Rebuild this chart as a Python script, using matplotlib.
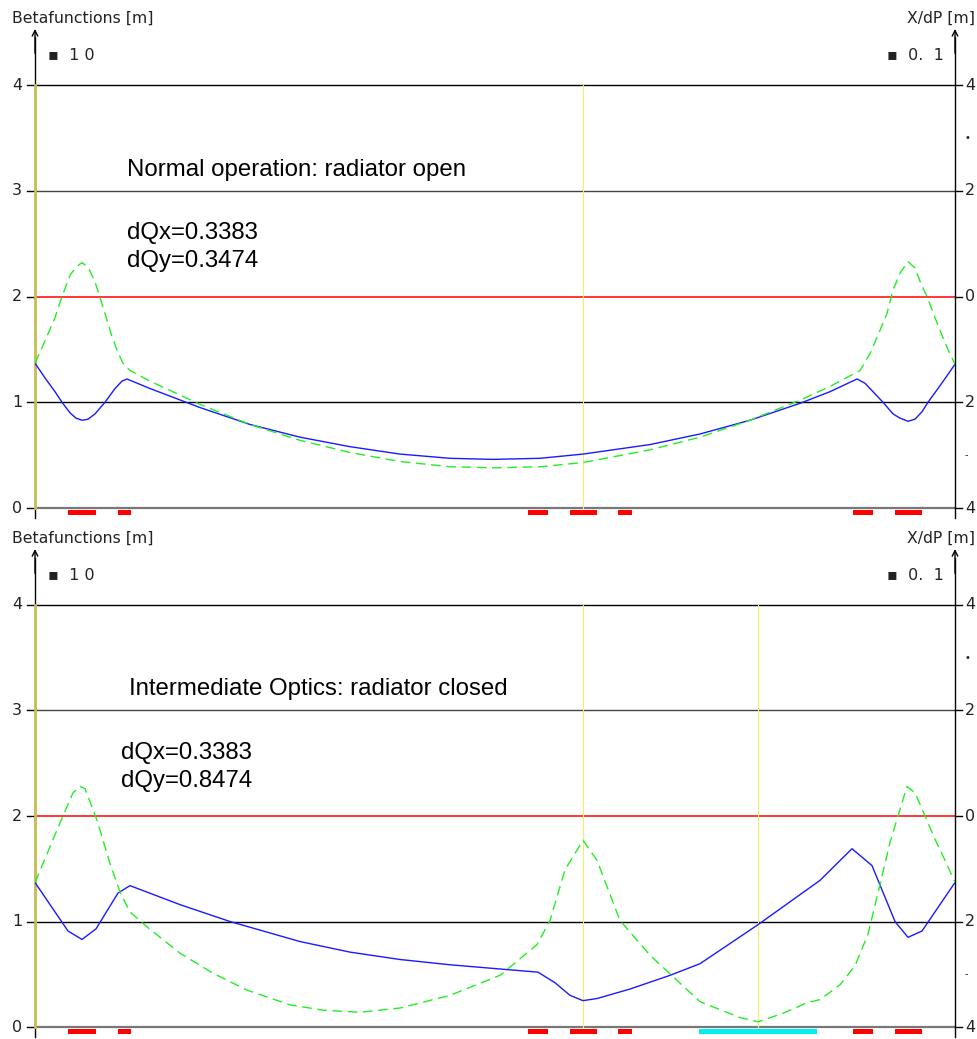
import matplotlib.pyplot as plt
import numpy as np

# Data (s in arbitrary units along the lattice, beta in units of 10 m)
s_bx1 = [0, 1, 2, 2.7, 3.5, 4.1, 4.7, 5.3, 6, 7, 8, 8.7, 9.2, 11.5, 16.5, 21.5, 26.5, 31.5,
         36.5, 41.5, 45.8, 50.5, 54.8, 61.5, 66.5, 71.5, 76.5, 79.5, 82.2, 83, 84, 84.8,
         85.8, 86.5, 87.3, 88, 88.7, 89.3, 90.3, 91.2, 92]
bx1 = [1.37, 1.23, 1.10, 1.00, 0.90, 0.85, 0.83, 0.84, 0.89, 1.00, 1.13, 1.20, 1.22, 1.13,
       0.95, 0.79, 0.67, 0.58, 0.51, 0.47, 0.46, 0.47, 0.51, 0.60, 0.70, 0.83, 0.99, 1.10,
       1.22, 1.18, 1.08, 1.00, 0.89, 0.85, 0.82, 0.84, 0.91, 1.00, 1.13, 1.25, 1.36]

s_by1 = [0, 1, 2, 2.7, 3.5, 4.1, 4.7, 5.3, 6, 6.4, 7, 7.7, 8.3, 8.8, 9.5, 11.5, 16.5, 21.5,
         26.5, 31.5, 36.5, 41.5, 46, 50.5, 54.8, 61.5, 66.5, 71.5, 76.5, 79.5, 82.5, 83.5,
         84.5, 85.2, 85.8, 86.5, 87.3, 88, 88.6, 89.2, 89.8, 90.5, 91.2, 92]
by1 = [1.37, 1.58, 1.80, 2.00, 2.20, 2.28, 2.32, 2.28, 2.14, 2.02, 1.84, 1.62, 1.47, 1.37,
       1.30, 1.20, 0.98, 0.79, 0.64, 0.525, 0.44, 0.39, 0.38, 0.39, 0.43, 0.55, 0.67, 0.83,
       1.02, 1.15, 1.30, 1.46, 1.68, 1.84, 2.06, 2.22, 2.33, 2.27, 2.12, 2.00, 1.85, 1.68,
       1.52, 1.36]

s_bx2 = [0, 3.3, 4.7, 6.1, 8.3, 9.5, 14.5, 19.5, 26.5, 31.5, 36.5, 41.5, 46.5, 50.3, 52,
         53.5, 54.8, 56.2, 59.5, 63.5, 66.5, 72.3, 78.5, 81.7, 83.7, 86, 87.3, 88.7, 92]
bx2 = [1.37, 0.91, 0.83, 0.93, 1.27, 1.34, 1.16, 1.00, 0.81, 0.71, 0.64, 0.59, 0.55, 0.52,
       0.42, 0.30, 0.25, 0.27, 0.36, 0.49, 0.60, 0.97, 1.39, 1.69, 1.53, 1.00, 0.85, 0.91, 1.37]

s_by2 = [0, 2.7, 3.8, 4.5, 5, 6.2, 7.5, 8.5, 9.5, 11.2, 14.5, 17.8, 21.2, 25.5, 28.8, 32.5,
         36.5, 41.5, 46.5, 50.2, 51.5, 53, 54.8, 56.2, 58.5, 61.5, 66.5, 70.5, 72.3, 74.8,
         77.2, 78.5, 80.5, 82, 83.3, 84.5, 85.5, 86.3, 87.2, 88, 89, 90, 91, 92]
by2 = [1.37, 1.98, 2.22, 2.28, 2.26, 1.96, 1.55, 1.28, 1.09, 0.95, 0.70, 0.51, 0.35, 0.21,
       0.16, 0.14, 0.18, 0.30, 0.49, 0.78, 1.01, 1.49, 1.77, 1.58, 1.01, 0.68, 0.24, 0.09,
       0.05, 0.13, 0.23, 0.26, 0.40, 0.58, 0.88, 1.35, 1.75, 2.00, 2.28, 2.22, 2.00, 1.78,
       1.58, 1.37]

# magnet blocks (start, end)
red_blocks = [(3.3, 6.1), (8.3, 9.6), (49.3, 51.3), (53.5, 56.2), (58.3, 59.7),
              (81.8, 83.8), (86.0, 88.7)]
cyan_blocks = [(66.4, 78.2)]

left_ticks = [0, 1, 2, 3, 4]
right_tick_pos = [4, 3.5, 3, 2, 1, 0.5, 0]
right_tick_txt = ['4', '\u2022', '2', '0', '2', '-', '4']

panels = [
    dict(title='Normal operation: radiator open', qx='dQx=0.3383', qy='dQy=0.3474',
         sx=s_bx1, bx=bx1, sy=s_by1, by=by1, vlines=[54.8], cyan=[],
         rect=[0.03582, 0.4995, 0.94166, 0.4764], ylim=(-0.1135, 4.567),
         tpos=(9.2, 3.2), qpos=(9.2, 2.6)),
    dict(title='Intermediate Optics: radiator closed', qx='dQx=0.3383', qy='dQy=0.8474',
         sx=s_bx2, bx=bx2, sy=s_by2, by=by2, vlines=[54.8, 72.3], cyan=cyan_blocks,
         rect=[0.03582, 0.0019, 0.94166, 0.4736], ylim=(-0.0948, 4.569),
         tpos=(9.4, 3.2), qpos=(8.6, 2.6)),
]

fig = plt.figure(figsize=(9.77, 10.39), dpi=100)
plt.rcParams['font.family'] = ['DejaVu Sans']

for p in panels:
    ax = fig.add_axes(p['rect'])
    ax.set_xlim(0, 92)
    ax.set_ylim(*p['ylim'])
    ax.axis('off')

    # horizontal grid lines
    for yv, c, lw in [(4, 'black', 1.0), (3, '#444444', 1.0), (2, 'red', 1.1),
                      (1, 'black', 1.0), (0, '#777777', 1.6)]:
        ax.plot([0, 92], [yv, yv], color=c, lw=lw, zorder=1)

    # vertical markers
    for xv in p['vlines']:
        ax.plot([xv, xv], [0, 4], color='#f0f070', lw=0.8, zorder=1)

    # axes with arrows
    for xv in [0, 92]:
        ax.plot([xv, xv], [-0.09, 4.45], color='black', lw=1.0, zorder=3, clip_on=False)
        ax.annotate('', xy=(xv, 4.53), xytext=(xv, 4.3),
                    arrowprops=dict(arrowstyle='->', lw=1.0, color='black',
                                    shrinkA=0, shrinkB=0, mutation_scale=10),
                    annotation_clip=False)
    ax.plot([0, 0], [0, 4], color='#c8c050', lw=2.0, zorder=3.5, clip_on=False)

    # tick stubs and labels
    for t in left_ticks:
        ax.plot([-0.75, 0], [t, t], color='black', lw=1.0, clip_on=False)
        ax.text(-1.8, t, str(t), ha='center', va='center', fontsize=11.5, color='#222222')
    for t, lab in zip(right_tick_pos, right_tick_txt):
        if lab in ('4', '2', '0'):
            ax.plot([92, 92.7], [t, t], color='black', lw=1.0, clip_on=False)
        ax.text(93.0, t, lab, ha='left', va='center',
                fontsize=11.5 if lab not in ('-', '\u2022') else 7,
                color='#222222', clip_on=False)

    # optics functions
    ax.plot(p['sx'], p['bx'], color='#1a1aff', lw=1.0, zorder=4)
    ax.plot(p['sy'], p['by'], color='#22ee22', lw=1.0, dashes=(7, 4), zorder=4)

    # element blocks
    for a, b in red_blocks:
        ax.bar(a, 0.045, width=b - a, bottom=-0.062, align='edge', color='red',
               clip_on=False, zorder=3)
    for a, b in p['cyan']:
        ax.bar(a, 0.045, width=b - a, bottom=-0.062, align='edge', color='#00f0f0',
               clip_on=False, zorder=3)

    # header texts
    ax.text(-2.3, 4.63, 'Betafunctions [m]', ha='left', va='center', fontsize=11.3,
            color='#222222', clip_on=False)
    ax.text(94.0, 4.63, 'X/dP [m]', ha='right', va='center', fontsize=11.3,
            color='#222222', clip_on=False)
    ax.text(1.3, 4.28, '\u25aa  1 0', ha='left', va='center', fontsize=11.5, color='#222222')
    ax.text(85.2, 4.28, '\u25aa  0.  1', ha='left', va='center', fontsize=11.5, color='#222222')

    # annotations
    ax.text(p['tpos'][0], p['tpos'][1], p['title'], ha='left', va='center', fontsize=17.3,
            family='Liberation Sans', color='black')
    ax.text(p['qpos'][0], p['qpos'][1], p['qx'], ha='left', va='center', fontsize=17.3,
            family='Liberation Sans', color='black')
    ax.text(p['qpos'][0], p['qpos'][1] - 0.265, p['qy'], ha='left', va='center',
            fontsize=17.3, family='Liberation Sans', color='black')

fig.savefig('out.png', dpi=100)
